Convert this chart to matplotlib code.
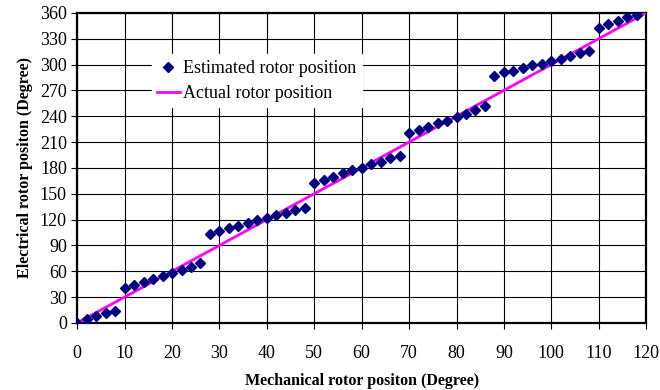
import matplotlib.pyplot as plt
import numpy as np

plt.rcParams["font.family"] = ["Liberation Serif", "DejaVu Serif"]

# mechanical angle (degree) and estimated electrical angle (degree)
mech = np.arange(0, 120, 2)
estimated = [
    0, 5, 8, 11, 14, 40, 44, 48, 51, 54,
    58, 62, 65, 69, 103, 107, 110, 113, 116, 119,
    122, 125, 128, 131, 134, 162, 166, 170, 174, 177,
    180, 184, 187, 191, 194, 220, 224, 228, 232, 235,
    239, 243, 247, 252, 287, 291, 293, 296, 299, 301,
    304, 307, 310, 313, 316, 342, 347, 351, 355, 358,
]
actual_x = [0, 120]
actual_y = [0, 360]

fig = plt.figure(figsize=(6.6, 3.9), dpi=100)
ax = fig.add_axes([0.117, 0.172, 0.862, 0.795])

ax.plot(actual_x, actual_y, color="#ff00ff", lw=2, label="Actual rotor position", zorder=3)
ax.plot(mech, estimated, ls="none", marker="D", ms=5.5, color="#000080",
        label="Estimated rotor position", zorder=4)

ax.set_xlim(0, 120)
ax.set_ylim(0, 360)
ax.set_xticks(np.arange(0, 121, 10))
ax.set_yticks(np.arange(0, 361, 30))
ax.grid(True, color="black", lw=0.8)
ax.set_axisbelow(True)
for s in ax.spines.values():
    s.set_linewidth(1.6)
ax.tick_params(labelsize=13, length=4, width=0.8, direction="out")
ax.tick_params(axis="x", pad=12)

ax.set_xlabel("Mechanical rotor positon (Degree)", fontsize=11.5, fontweight="bold", labelpad=8)
ax.set_ylabel("Electrical rotor positon (Degree)", fontsize=11.5, fontweight="bold", labelpad=5)

h, l = ax.get_legend_handles_labels()
leg = ax.legend(h[::-1], l[::-1], loc="upper left", bbox_to_anchor=(0.115, 0.895),
                fontsize=13, frameon=True, fancybox=False, framealpha=1,
                edgecolor="white", handlelength=1.25, handletextpad=0.2,
                borderpad=0.3, labelspacing=0.45)

fig.savefig("out.png", dpi=100)
